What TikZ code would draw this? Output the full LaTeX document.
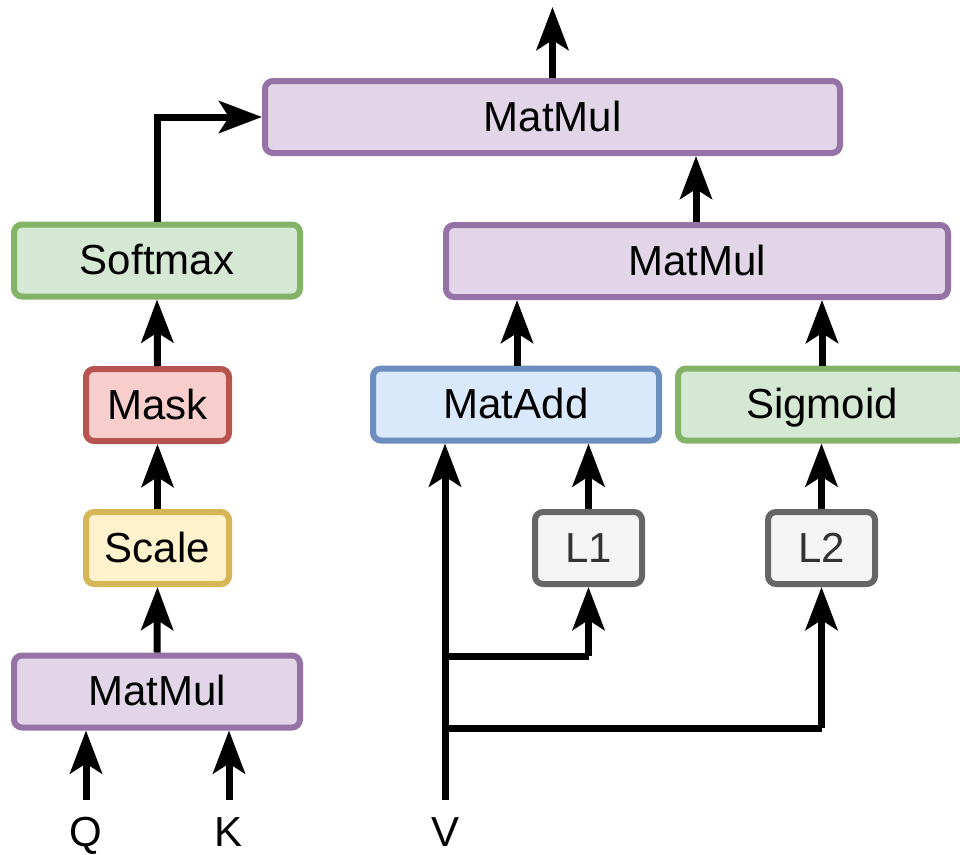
\documentclass[tikz,border=0pt]{standalone}
\usepackage{fontspec}
\setmainfont{Liberation Sans}
\usetikzlibrary{arrows.meta}

\definecolor{purpleF}{HTML}{E1D5E7}\definecolor{purpleS}{HTML}{9673A6}
\definecolor{greenF}{HTML}{D5E8D4}\definecolor{greenS}{HTML}{82B366}
\definecolor{redF}{HTML}{F8CECC}\definecolor{redS}{HTML}{B85450}
\definecolor{yellowF}{HTML}{FFF2CC}\definecolor{yellowS}{HTML}{D6B656}
\definecolor{blueF}{HTML}{DAE8FC}\definecolor{blueS}{HTML}{6C8EBF}
\definecolor{grayF}{HTML}{F5F5F5}\definecolor{grayS}{HTML}{666666}
\definecolor{grayT}{HTML}{333333}

\tikzset{
  blk/.style={draw, line width=6pt, rounded corners=8pt, minimum height=72pt,
    inner sep=0pt, text height=30pt, text depth=2pt,
    font=\fontsize{42}{50}\selectfont},
  mm/.style={blk, fill=purpleF, draw=purpleS},
  gr/.style={blk, fill=greenF, draw=greenS},
  rd/.style={blk, fill=redF, draw=redS},
  yl/.style={blk, fill=yellowF, draw=yellowS},
  bl/.style={blk, fill=blueF, draw=blueS},
  lin/.style={blk, fill=grayF, draw=grayS, text=grayT},
  lbl/.style={font=\fontsize{42}{50}\selectfont, inner sep=0pt,
    text height=30pt, text depth=0pt},
  arr/.style={line width=7pt, -{Stealth[length=43pt, width=32pt, inset=10pt]}},
  wire/.style={line width=7pt}
}

\begin{document}
\begin{tikzpicture}[x=1pt, y=-1pt]
  \useasboundingbox (0,0) rectangle (960,854);
  \begin{scope}
  \clip (0,0) rectangle (960,854);

  % left branch: attention weights
  \node[mm, minimum width=575pt] (topmm) at (552.5,117) {MatMul};
  \node[gr, minimum width=286pt] (soft) at (157,260.5) {Softmax};
  \node[rd, minimum width=143pt] (mask) at (157.5,405) {Mask};
  \node[yl, minimum width=143pt] (scale) at (157.5,548) {Scale};
  \node[mm, minimum width=286pt] (botmm) at (157,691.5) {MatMul};

  % right branch: value path
  \node[mm, minimum width=502pt] (midmm) at (697,261) {MatMul};
  \node[bl, minimum width=286pt] (madd) at (516,404.5) {MatAdd};
  \node[gr, minimum width=288pt] (sig) at (822,404.5) {Sigmoid};
  \node[lin, minimum width=107pt] (l1) at (588.5,548) {L1};
  \node[lin, minimum width=107pt] (l2) at (821.5,548) {L2};

  % inputs
  \node[lbl] (q) at (86,831) {Q};
  \node[lbl] (k) at (229,831) {K};
  \node[lbl] (v) at (445,831) {V};
  \coordinate (qs) at (86,800);
  \coordinate (ks) at (229,800);
  \coordinate (vs) at (445,800);
  \coordinate (b1) at (445,656);
  \coordinate (b2) at (445,728);
  \coordinate (out) at (552.5,7);

  % connectors
  \draw[arr] (qs) -- (qs |- botmm.south);
  \draw[arr] (ks) -- (ks |- botmm.south);
  \draw[arr] (botmm.north) -- (scale.south);
  \draw[arr] (scale.north) -- (mask.south);
  \draw[arr] (mask.north) -- (soft.north |- soft.south);
  \draw[arr] (soft.north) |- (topmm.west);
  \draw[arr] (topmm.north) -- (out);

  \draw[arr] (vs) -- (vs |- madd.south);
  \draw[wire] (b1) -- (b1 -| l1.south);
  \draw[arr] (b1 -| l1.south) -- (l1.south);
  \draw[wire] (b2) -- (b2 -| l2.south);
  \draw[arr] (b2 -| l2.south) -- (l2.south);
  \draw[arr] (l1.north) -- (l1.north |- madd.south);
  \draw[arr] (l2.north) -- (l2.north |- sig.south);
  \draw[arr] (madd.north -| 517,0) -- (517,0 |- midmm.south);
  \draw[arr] (sig.north) -- (sig.north |- midmm.south);
  \draw[arr] (midmm.north -| 696,0) -- (696,0 |- topmm.south);
  \end{scope}
\end{tikzpicture}
\end{document}
